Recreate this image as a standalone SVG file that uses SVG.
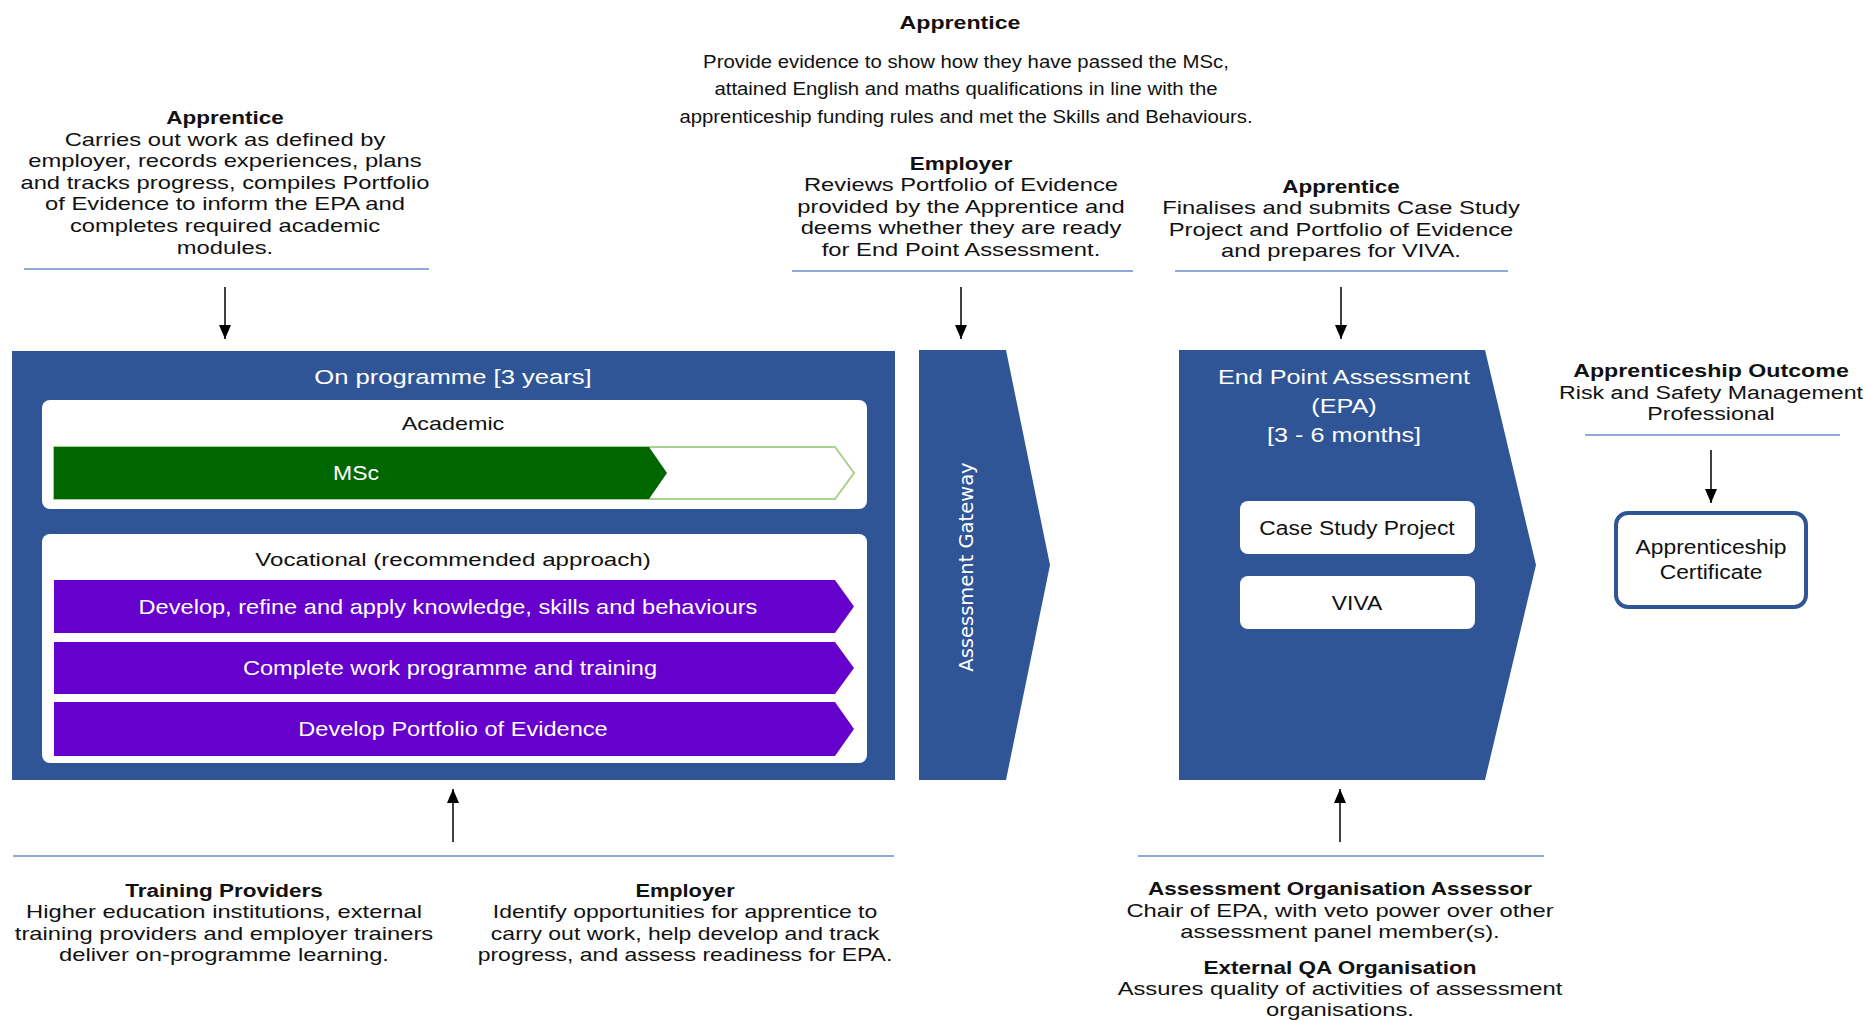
<svg xmlns="http://www.w3.org/2000/svg" width="1867" height="1020" viewBox="0 0 1867 1020">
<style>
.t{font-family:"Liberation Sans",Arial,sans-serif;font-size:19px;fill:#111;text-anchor:middle}
.b{font-weight:bold;font-size:18px}
.w{fill:#fff}
.lg{font-size:21px}
.sep{stroke:#8eaadb;stroke-width:2;fill:none}
.con{stroke:#000;stroke-width:1.5;fill:none}
.blue{fill:#2f5597}
.purple{fill:#6600cc}
.card{fill:#fff}
</style>
<defs>
<marker id="ah" viewBox="0 0 14 12" refX="14" refY="6" markerWidth="14" markerHeight="12" markerUnits="userSpaceOnUse" orient="auto">
<path d="M0,0 L14,6 L0,12 z" fill="#000"/>
</marker>
</defs>
<rect width="1867" height="1020" fill="#fff"/>

<!-- top apprentice -->
<g id="top-apprentice">
<g transform="translate(960 0) scale(1.25 1)"><text class="t b" style="font-size:18.5px" x="0" y="29">Apprentice</text></g>
<g transform="translate(966 0) scale(1.1 1)">
<text class="t" style="font-size:18.5px" x="0" y="68">Provide evidence to show how they have passed the MSc,</text>
<text class="t" style="font-size:18.5px" x="0" y="95">attained English and maths qualifications in line with the</text>
<text class="t" style="font-size:18.5px" x="0" y="123">apprenticeship funding rules and met the Skills and Behaviours.</text>
</g>
</g>

<!-- left apprentice -->
<g id="left-apprentice">
<g transform="translate(225 0) scale(1.25 1)">
<text class="t b" x="0" y="124">Apprentice</text>
<text class="t" x="0" y="145.6">Carries out work as defined by</text>
<text class="t" x="0" y="167.2">employer, records experiences, plans</text>
<text class="t" x="0" y="188.8">and tracks progress, compiles Portfolio</text>
<text class="t" x="0" y="210.4">of Evidence to inform the EPA and</text>
<text class="t" x="0" y="232">completes required academic</text>
<text class="t" x="0" y="253.6">modules.</text>
</g>
<line class="sep" x1="24" y1="269" x2="429" y2="269"/>
</g>

<!-- employer top -->
<g id="employer-review">
<g transform="translate(961 0) scale(1.25 1)">
<text class="t b" x="0" y="170">Employer</text>
<text class="t" x="0" y="191.5">Reviews Portfolio of Evidence</text>
<text class="t" x="0" y="213">provided by the Apprentice and</text>
<text class="t" x="0" y="234.5">deems whether they are ready</text>
<text class="t" x="0" y="256">for End Point Assessment.</text>
</g>
<line class="sep" x1="792" y1="271" x2="1133" y2="271"/>
</g>

<!-- right apprentice -->
<g id="apprentice-finalises">
<g transform="translate(1341 0) scale(1.25 1)">
<text class="t b" x="0" y="193">Apprentice</text>
<text class="t" x="0" y="214.5">Finalises and submits Case Study</text>
<text class="t" x="0" y="236">Project and Portfolio of Evidence</text>
<text class="t" x="0" y="257.5">and prepares for VIVA.</text>
</g>
<line class="sep" x1="1175" y1="271" x2="1508" y2="271"/>
</g>

<!-- on programme -->
<g id="on-programme">
<rect class="blue" x="12" y="351" width="883" height="429"/>
<g transform="translate(453 0) scale(1.22 1)"><text class="t w lg" x="0" y="384.5">On programme [3 years]</text></g>
<rect class="card" x="42" y="400" width="825" height="109" rx="8"/>
<g transform="translate(453 0) scale(1.23 1)"><text class="t" x="0" y="430">Academic</text></g>
<polygon points="54,447 835,447 854,473 835,499 54,499" fill="#fff" stroke="#a9d18e" stroke-width="2"/>
<polygon points="54,447 649,447 667,473 649,499 54,499" fill="#006600"/>
<g transform="translate(356 0) scale(1.15 1)"><text class="t w" style="font-size:20px" x="0" y="480">MSc</text></g>
<rect class="card" x="42" y="534" width="825" height="229" rx="8"/>
<g transform="translate(453 0) scale(1.27 1)"><text class="t" x="0" y="566">Vocational (recommended approach)</text></g>
<polygon class="purple" points="54,580 835,580 854,606.5 835,633 54,633"/>
<polygon class="purple" points="54,642 835,642 854,668 835,694 54,694"/>
<polygon class="purple" points="54,702 835,702 854,729 835,756 54,756"/>
<g transform="translate(448 0) scale(1.18 1)"><text class="t w" style="font-size:20px" x="0" y="614">Develop, refine and apply knowledge, skills and behaviours</text></g>
<g transform="translate(450 0) scale(1.18 1)"><text class="t w" style="font-size:20px" x="0" y="675">Complete work programme and training</text></g>
<g transform="translate(453 0) scale(1.18 1)"><text class="t w" style="font-size:20px" x="0" y="736">Develop Portfolio of Evidence</text></g>
</g>

<!-- assessment gateway -->
<g id="assessment-gateway">
<polygon class="blue" points="919,350 1006,350 1050,565 1006,780 919,780"/>
<text transform="translate(973 567) rotate(-90)" x="0" y="0" font-family="'DejaVu Sans',Verdana,sans-serif" font-size="19.5" fill="#fff" text-anchor="middle">Assessment Gateway</text>
</g>

<!-- EPA -->
<g id="epa">
<polygon class="blue" points="1179,350 1485,350 1536,565 1485,780 1179,780"/>
<g transform="translate(1344 0) scale(1.2 1)">
<text class="t w lg" x="0" y="384.5">End Point Assessment</text>
<text class="t w lg" x="0" y="413.5">(EPA)</text>
<text class="t w lg" x="0" y="442.5">[3 - 6 months]</text>
</g>
<rect class="card" x="1240" y="501" width="235" height="53" rx="8"/>
<g transform="translate(1357 0) scale(1.17 1)"><text class="t" style="font-size:19.5px" x="0" y="535">Case Study Project</text></g>
<rect class="card" x="1240" y="576" width="235" height="53" rx="8"/>
<g transform="translate(1357 0) scale(1.17 1)"><text class="t" style="font-size:19.5px" x="0" y="610">VIVA</text></g>
</g>

<!-- outcome -->
<g id="outcome">
<g transform="translate(1711 0) scale(1.22 1)">
<text class="t b" style="font-size:19px" x="0" y="377">Apprenticeship Outcome</text>
<text class="t" x="0" y="399">Risk and Safety Management</text>
<text class="t" x="0" y="420">Professional</text>
</g>
<line class="sep" x1="1585" y1="435" x2="1840" y2="435"/>
</g>

<g id="certificate">
<rect x="1616" y="513" width="190" height="94" rx="12" fill="#fff" stroke="#2f5597" stroke-width="4"/>
<g transform="translate(1711 0) scale(1.17 1)">
<text class="t" style="font-size:19.5px" x="0" y="554">Apprenticeship</text>
<text class="t" style="font-size:19.5px" x="0" y="579">Certificate</text>
</g>
</g>

<!-- bottom left -->
<g id="training-providers">
<line class="sep" x1="13" y1="856" x2="894" y2="856"/>
<g transform="translate(224 0) scale(1.25 1)">
<text class="t b" x="0" y="897">Training Providers</text>
<text class="t" x="0" y="918.5">Higher education institutions, external</text>
<text class="t" x="0" y="940">training providers and employer trainers</text>
<text class="t" x="0" y="961.5">deliver on-programme learning.</text>
</g>
</g>

<g id="employer-support">
<g transform="translate(685 0) scale(1.21 1)">
<text class="t b" x="0" y="897">Employer</text>
<text class="t" x="0" y="918.5">Identify opportunities for apprentice to</text>
<text class="t" x="0" y="940">carry out work, help develop and track</text>
<text class="t" x="0" y="961.5">progress, and assess readiness for EPA.</text>
</g>
</g>

<g id="assessor">
<line class="sep" x1="1138" y1="856" x2="1544" y2="856"/>
<g transform="translate(1340 0) scale(1.25 1)">
<text class="t b" x="0" y="895">Assessment Organisation Assessor</text>
<text class="t" x="0" y="917">Chair of EPA, with veto power over other</text>
<text class="t" x="0" y="938.5">assessment panel member(s).</text>
</g>
</g>

<g id="external-qa">
<g transform="translate(1340 0) scale(1.25 1)">
<text class="t b" x="0" y="974">External QA Organisation</text>
<text class="t" x="0" y="995">Assures quality of activities of assessment</text>
<text class="t" x="0" y="1016">organisations.</text>
</g>
</g>

<!-- connectors -->
<g id="connectors">
<line class="con" x1="225" y1="287" x2="225" y2="339" marker-end="url(#ah)"/>
<line class="con" x1="961" y1="287" x2="961" y2="339" marker-end="url(#ah)"/>
<line class="con" x1="1341" y1="287" x2="1341" y2="339" marker-end="url(#ah)"/>
<line class="con" x1="1711" y1="450" x2="1711" y2="503" marker-end="url(#ah)"/>
<line class="con" x1="453" y1="842" x2="453" y2="789" marker-end="url(#ah)"/>
<line class="con" x1="1340" y1="842" x2="1340" y2="789" marker-end="url(#ah)"/>
</g>
</svg>
